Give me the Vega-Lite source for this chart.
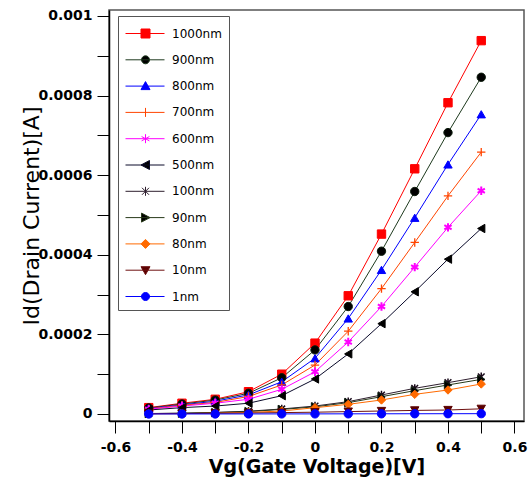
{
  "$schema": "https://vega.github.io/schema/vega-lite/v6.json",
  "width": 415,
  "height": 411,
  "autosize": {"type": "none"},
  "padding": {"left": 109, "top": 10, "right": 8, "bottom": 58},
  "background": "white",
  "config": {"view": {"stroke": "#555555", "strokeWidth": 1.5}, "font": "DejaVu Sans"},
  "data": {"values": [
    {"series":"1000nm","vg":-0.5,"id":0.000016},{"series":"1000nm","vg":-0.4,"id":0.000027},{"series":"1000nm","vg":-0.3,"id":0.000037},{"series":"1000nm","vg":-0.2,"id":0.000056},{"series":"1000nm","vg":-0.1,"id":0.000100},{"series":"1000nm","vg":0,"id":0.000178},{"series":"1000nm","vg":0.1,"id":0.000297},{"series":"1000nm","vg":0.2,"id":0.000452},{"series":"1000nm","vg":0.3,"id":0.000616},{"series":"1000nm","vg":0.4,"id":0.000782},{"series":"1000nm","vg":0.5,"id":0.000938},
    {"series":"900nm","vg":-0.5,"id":0.000015},{"series":"900nm","vg":-0.4,"id":0.000025},{"series":"900nm","vg":-0.3,"id":0.000035},{"series":"900nm","vg":-0.2,"id":0.000052},{"series":"900nm","vg":-0.1,"id":0.000091},{"series":"900nm","vg":0,"id":0.000161},{"series":"900nm","vg":0.1,"id":0.000270},{"series":"900nm","vg":0.2,"id":0.000409},{"series":"900nm","vg":0.3,"id":0.000559},{"series":"900nm","vg":0.4,"id":0.000707},{"series":"900nm","vg":0.5,"id":0.000846},
    {"series":"800nm","vg":-0.5,"id":0.000014},{"series":"800nm","vg":-0.4,"id":0.000023},{"series":"800nm","vg":-0.3,"id":0.000032},{"series":"800nm","vg":-0.2,"id":0.000048},{"series":"800nm","vg":-0.1,"id":0.000081},{"series":"800nm","vg":0,"id":0.000140},{"series":"800nm","vg":0.1,"id":0.000240},{"series":"800nm","vg":0.2,"id":0.000362},{"series":"800nm","vg":0.3,"id":0.000493},{"series":"800nm","vg":0.4,"id":0.000627},{"series":"800nm","vg":0.5,"id":0.000753},
    {"series":"700nm","vg":-0.5,"id":0.000013},{"series":"700nm","vg":-0.4,"id":0.000022},{"series":"700nm","vg":-0.3,"id":0.000029},{"series":"700nm","vg":-0.2,"id":0.000044},{"series":"700nm","vg":-0.1,"id":0.000073},{"series":"700nm","vg":0,"id":0.000123},{"series":"700nm","vg":0.1,"id":0.000208},{"series":"700nm","vg":0.2,"id":0.000315},{"series":"700nm","vg":0.3,"id":0.000431},{"series":"700nm","vg":0.4,"id":0.000548},{"series":"700nm","vg":0.5,"id":0.000658},
    {"series":"600nm","vg":-0.5,"id":0.000012},{"series":"600nm","vg":-0.4,"id":0.000020},{"series":"600nm","vg":-0.3,"id":0.000027},{"series":"600nm","vg":-0.2,"id":0.000037},{"series":"600nm","vg":-0.1,"id":0.000062},{"series":"600nm","vg":0,"id":0.000106},{"series":"600nm","vg":0.1,"id":0.000181},{"series":"600nm","vg":0.2,"id":0.000270},{"series":"600nm","vg":0.3,"id":0.000369},{"series":"600nm","vg":0.4,"id":0.000469},{"series":"600nm","vg":0.5,"id":0.000561},
    {"series":"500nm","vg":-0.5,"id":0.000010},{"series":"500nm","vg":-0.4,"id":0.000016},{"series":"500nm","vg":-0.3,"id":0.000020},{"series":"500nm","vg":-0.2,"id":0.000027},{"series":"500nm","vg":-0.1,"id":0.000046},{"series":"500nm","vg":0,"id":0.000088},{"series":"500nm","vg":0.1,"id":0.000151},{"series":"500nm","vg":0.2,"id":0.000227},{"series":"500nm","vg":0.3,"id":0.000307},{"series":"500nm","vg":0.4,"id":0.000389},{"series":"500nm","vg":0.5,"id":0.000466},
    {"series":"100nm","vg":-0.5,"id":0.0000012},{"series":"100nm","vg":-0.4,"id":0.000002},{"series":"100nm","vg":-0.3,"id":0.000004},{"series":"100nm","vg":-0.2,"id":0.000007},{"series":"100nm","vg":-0.1,"id":0.0000126},{"series":"100nm","vg":0,"id":0.000020},{"series":"100nm","vg":0.1,"id":0.000031},{"series":"100nm","vg":0.2,"id":0.0000477},{"series":"100nm","vg":0.3,"id":0.0000645},{"series":"100nm","vg":0.4,"id":0.0000787},{"series":"100nm","vg":0.5,"id":0.0000935},
    {"series":"90nm","vg":-0.5,"id":0.000001},{"series":"90nm","vg":-0.4,"id":0.0000018},{"series":"90nm","vg":-0.3,"id":0.0000035},{"series":"90nm","vg":-0.2,"id":0.000006},{"series":"90nm","vg":-0.1,"id":0.0000115},{"series":"90nm","vg":0,"id":0.000018},{"series":"90nm","vg":0.1,"id":0.0000285},{"series":"90nm","vg":0.2,"id":0.0000435},{"series":"90nm","vg":0.3,"id":0.0000586},{"series":"90nm","vg":0.4,"id":0.000073},{"series":"90nm","vg":0.5,"id":0.000087},
    {"series":"80nm","vg":-0.5,"id":0.0000005},{"series":"80nm","vg":-0.4,"id":0.000001},{"series":"80nm","vg":-0.3,"id":0.000002},{"series":"80nm","vg":-0.2,"id":0.000004},{"series":"80nm","vg":-0.1,"id":0.0000075},{"series":"80nm","vg":0,"id":0.0000158},{"series":"80nm","vg":0.1,"id":0.0000243},{"series":"80nm","vg":0.2,"id":0.0000352},{"series":"80nm","vg":0.3,"id":0.0000494},{"series":"80nm","vg":0.4,"id":0.0000603},{"series":"80nm","vg":0.5,"id":0.0000754},
    {"series":"10nm","vg":-0.5,"id":0.0000007},{"series":"10nm","vg":-0.4,"id":0.000001},{"series":"10nm","vg":-0.3,"id":0.0000018},{"series":"10nm","vg":-0.2,"id":0.0000025},{"series":"10nm","vg":-0.1,"id":0.0000035},{"series":"10nm","vg":0,"id":0.0000045},{"series":"10nm","vg":0.1,"id":0.000006},{"series":"10nm","vg":0.2,"id":0.0000075},{"series":"10nm","vg":0.3,"id":0.000009},{"series":"10nm","vg":0.4,"id":0.00001},{"series":"10nm","vg":0.5,"id":0.000013},
    {"series":"1nm","vg":-0.5,"id":0.00000005},{"series":"1nm","vg":-0.4,"id":0.00000008},{"series":"1nm","vg":-0.3,"id":0.0000001},{"series":"1nm","vg":-0.2,"id":0.00000015},{"series":"1nm","vg":-0.1,"id":0.0000002},{"series":"1nm","vg":0,"id":0.0000003},{"series":"1nm","vg":0.1,"id":0.0000004},{"series":"1nm","vg":0.2,"id":0.0000005},{"series":"1nm","vg":0.3,"id":0.0000006},{"series":"1nm","vg":0.4,"id":0.0000007},{"series":"1nm","vg":0.5,"id":0.0000008}
  ]},
  "encoding": {
    "x": {"field": "vg", "type": "quantitative",
      "scale": {"domain": [-0.6195, 0.6286], "nice": false, "zero": false},
      "axis": {"values": [-0.6,-0.5,-0.4,-0.3,-0.2,-0.1,0,0.1,0.2,0.3,0.4,0.5,0.6],
        "title": "Vg(Gate Voltage)[V]", "titleFont": "DejaVu Sans", "titleFontSize": 19, "titleFontWeight": "bold", "titleColor": "black", "titlePadding": 3,
        "labelFont": "DejaVu Sans", "labelFontSize": 14, "labelFontWeight": "bold", "labelColor": "black", "labelPadding": 7,
        "labelExpr": "round(datum.value*10)%2==0 ? toString(round(datum.value*10)/10) : ''",
        "labelOverlap": false, "labelFlush": false, "labelBound": false,
        "tickSize": 12, "tickColor": "black", "tickWidth": 1, "domainColor": "black", "domainWidth": 1.5, "grid": false,
        "encode": {"ticks": {"update": {"y2": {"signal": "round(datum.value*10)%2==0 ? 12 : 7"}}}}}},
    "y": {"field": "id", "type": "quantitative",
      "scale": {"domain": [-0.0000176, 0.001015], "nice": false, "zero": false},
      "axis": {"values": [0,0.0001,0.0002,0.0003,0.0004,0.0005,0.0006,0.0007,0.0008,0.0009,0.001],
        "title": "Id(Drain Current)[A]", "titleFont": "DejaVu Sans", "titleFontSize": 22, "titleFontWeight": "normal", "titleColor": "black", "titlePadding": -6,
        "labelFont": "DejaVu Sans", "labelFontSize": 14, "labelFontWeight": "bold", "labelColor": "black", "labelPadding": 5,
        "labelExpr": "round(datum.value*10000)%2==0 ? toString(round(datum.value*10000)/10000) : ''",
        "labelOverlap": false, "labelFlush": false, "labelBound": false,
        "tickSize": 12, "tickColor": "black", "tickWidth": 1, "domainColor": "black", "domainWidth": 1.5, "grid": false,
        "encode": {"ticks": {"update": {"x2": {"signal": "round(datum.value*10000)%2==0 ? -12 : -7"}}}}}}
  },
  "layer": [
    {
      "mark": {"type": "line", "strokeWidth": 1, "clip": true},
      "encoding": {
        "stroke": {"field": "series", "type": "nominal",
          "scale": {"domain": ["1000nm","900nm","800nm","700nm","600nm","500nm","100nm","90nm","80nm","10nm","1nm"],
            "range": ["#ff0000","#1e3a1e","#0000ff","#ff4500","#ff00ff","#0a0a2a","#2e1e2e","#283a1a","#ff6a00","#6e1010","#0000ff"]}}
      }
    },
    {
      "mark": {"type": "point", "filled": true, "size": 0, "opacity": 1, "clip": true},
      "encoding": {
        "stroke": {"field": "series", "type": "nominal"},
        "fill": {"field": "series", "type": "nominal",
          "scale": {"domain": ["1000nm","900nm","800nm","700nm","600nm","500nm","100nm","90nm","80nm","10nm","1nm"],
            "range": ["#ff0000","#000000","#0000ff","#ff4500","#ff00ff","#000000","#000000","#000000","#ff6a00","#5a0000","#0000ff"]}},
        "shape": {"field": "series", "type": "nominal",
          "scale": {"domain": ["1000nm","900nm","800nm","700nm","600nm","500nm","100nm","90nm","80nm","10nm","1nm"],
            "range": ["M-1,0H2.9M0.55,-0.45H1.45V0.45H0.55Z","M-1,0H2.9M0.6,0A0.4,0.4,0,1,0,1.4,0A0.4,0.4,0,1,0,0.6,0Z","M-1,0H2.9M1,-0.45L1.45,0.35L0.55,0.35Z","M-1,0H2.9M1,-0.45V0.45","M-1,0H2.9M1,-0.45V0.45M0.61,-0.22L1.39,0.22M0.61,0.22L1.39,-0.22","M-1,0H2.9M0.55,0L1.4,-0.45L1.4,0.45Z","M-1,0H2.9M0.65,-0.35L1.35,0.35M0.65,0.35L1.35,-0.35M1,-0.45V0.45","M-1,0H2.9M1.45,0L0.6,-0.45L0.6,0.45Z","M-1,0H2.9M1,-0.45L1.45,0L1,0.45L0.55,0Z","M-1,0H2.9M1,0.45L1.45,-0.35L0.55,-0.35Z","M-1,0H2.9M0.6,0A0.4,0.4,0,1,0,1.4,0A0.4,0.4,0,1,0,0.6,0Z"]},
          "legend": {"title": null, "orient": "none", "legendX": 9, "legendY": 6, "direction": "vertical",
            "strokeColor": "#555555", "fillColor": "white", "padding": 7,
            "symbolSize": 400, "symbolStrokeWidth": 1, "symbolOpacity": 1, "rowPadding": 9.3, "labelOffset": 26,
            "labelFont": "DejaVu Sans", "labelFontSize": 12, "labelColor": "black", "labelLimit": 200}}
      }
    },
    {"transform": [{"filter": "datum.series == '1000nm'"}], "mark": {"type": "point", "shape": "square", "filled": true, "fill": "#ff0000", "stroke": "#ff0000", "strokeWidth": 1, "size": 70, "opacity": 1, "clip": true}},
    {"transform": [{"filter": "datum.series == '900nm'"}], "mark": {"type": "point", "shape": "circle", "filled": true, "fill": "#000000", "stroke": "#0a1a0a", "strokeWidth": 1, "size": 70, "opacity": 1, "clip": true}},
    {"transform": [{"filter": "datum.series == '800nm'"}], "mark": {"type": "point", "shape": "triangle-up", "filled": true, "fill": "#0000ff", "stroke": "#0000ff", "strokeWidth": 1, "size": 70, "opacity": 1, "clip": true}},
    {"transform": [{"filter": "datum.series == '700nm'"}], "mark": {"type": "point", "shape": "M-1,0H1M0,-1V1", "filled": true, "fill": "#ff4500", "stroke": "#ff4500", "strokeWidth": 1.3, "size": 70, "opacity": 1, "clip": true}},
    {"transform": [{"filter": "datum.series == '600nm'"}], "mark": {"type": "point", "shape": "M0,-1V1M-0.87,-0.5L0.87,0.5M-0.87,0.5L0.87,-0.5", "filled": true, "fill": "#ff00ff", "stroke": "#ff00ff", "strokeWidth": 2, "size": 70, "opacity": 1, "clip": true}},
    {"transform": [{"filter": "datum.series == '500nm'"}], "mark": {"type": "point", "shape": "triangle-left", "filled": true, "fill": "#000000", "stroke": "#000000", "strokeWidth": 1, "size": 70, "opacity": 1, "clip": true}},
    {"transform": [{"filter": "datum.series == '100nm'"}], "mark": {"type": "point", "shape": "M-0.8,-0.8L0.8,0.8M-0.8,0.8L0.8,-0.8M0,-1V1", "filled": true, "fill": "#1a0a1a", "stroke": "#1a0a1a", "strokeWidth": 1.5, "size": 70, "opacity": 1, "clip": true}},
    {"transform": [{"filter": "datum.series == '90nm'"}], "mark": {"type": "point", "shape": "triangle-right", "filled": true, "fill": "#000000", "stroke": "#102010", "strokeWidth": 1, "size": 70, "opacity": 1, "clip": true}},
    {"transform": [{"filter": "datum.series == '80nm'"}], "mark": {"type": "point", "shape": "diamond", "filled": true, "fill": "#ff6a00", "stroke": "#ff6a00", "strokeWidth": 1, "size": 70, "opacity": 1, "clip": true}},
    {"transform": [{"filter": "datum.series == '10nm'"}], "mark": {"type": "point", "shape": "triangle-down", "filled": true, "fill": "#5a0000", "stroke": "#5a0000", "strokeWidth": 1, "size": 70, "opacity": 1, "clip": true}},
    {"transform": [{"filter": "datum.series == '1nm'"}], "mark": {"type": "point", "shape": "circle", "filled": true, "fill": "#0000ff", "stroke": "#0000ff", "strokeWidth": 1, "size": 70, "opacity": 1, "clip": true}}
  ]
}
